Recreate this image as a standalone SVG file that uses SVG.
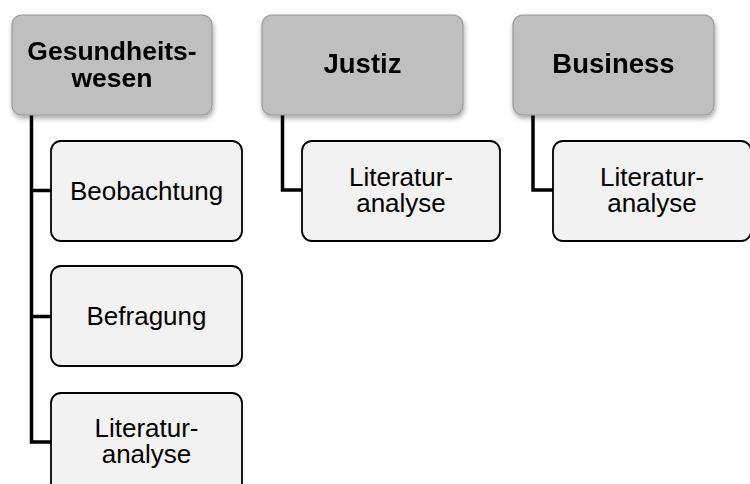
<svg xmlns="http://www.w3.org/2000/svg" width="750" height="484" viewBox="0 0 750 484">
  <defs>
    <filter id="shadow" x="-10%" y="-10%" width="125%" height="130%">
      <feDropShadow dx="1" dy="3" stdDeviation="2.5" flood-color="#000" flood-opacity="0.35"/>
    </filter>
  </defs>
  <style>
    .head rect { fill: #bfbfbf; stroke: #9a9a9a; stroke-width: 1.2; }
    .child rect { fill: #f2f2f2; stroke: #000; stroke-width: 1.8; }
    .head text { font-family: "Liberation Sans", Arial, sans-serif; font-weight: bold; fill: #000; text-anchor: middle; }
    .child text { font-family: "Liberation Sans", Arial, sans-serif; font-size: 26px; fill: #000; text-anchor: middle; }
    .conn path { fill: none; stroke: #000; stroke-width: 3.5; }
  </style>
  <rect width="750" height="484" fill="#fff"/>
  <g class="conn" id="connectors">
    <path d="M31.5,115 V442 H51 M31.5,190.5 H51 M31.5,316.5 H51"/>
    <path d="M282.5,115 V190 H302"/>
    <path d="M533,115 V190 H553"/>
  </g>
  <g class="head" id="n-gesundheitswesen" filter="url(#shadow)">
    <rect x="12" y="15" width="200" height="100" rx="10"/>
    <text x="112" y="60" font-size="26.5">Gesundheits-</text>
    <text x="112" y="87" font-size="26.5">wesen</text>
  </g>
  <g class="head" id="n-justiz" filter="url(#shadow)">
    <rect x="262" y="15" width="201" height="100" rx="10"/>
    <text x="362.5" y="73" font-size="27.5">Justiz</text>
  </g>
  <g class="head" id="n-business" filter="url(#shadow)">
    <rect x="513" y="15" width="201" height="100" rx="10"/>
    <text x="613.5" y="73" font-size="27.5">Business</text>
  </g>
  <g class="child" id="n-beobachtung">
    <rect x="51" y="141" width="191" height="100" rx="10"/>
    <text x="146.5" y="200">Beobachtung</text>
  </g>
  <g class="child" id="n-befragung">
    <rect x="51" y="266" width="191" height="100" rx="10"/>
    <text x="146.5" y="325">Befragung</text>
  </g>
  <g class="child" id="n-literatur-1">
    <rect x="51" y="393" width="191" height="100" rx="10"/>
    <text x="146.5" y="437">Literatur-</text>
    <text x="146.5" y="463">analyse</text>
  </g>
  <g class="child" id="n-literatur-2">
    <rect x="302" y="141" width="198" height="100" rx="10"/>
    <text x="401" y="186">Literatur-</text>
    <text x="401" y="212">analyse</text>
  </g>
  <g class="child" id="n-literatur-3">
    <rect x="553" y="141" width="198" height="100" rx="10"/>
    <text x="652" y="186">Literatur-</text>
    <text x="652" y="212">analyse</text>
  </g>
</svg>
